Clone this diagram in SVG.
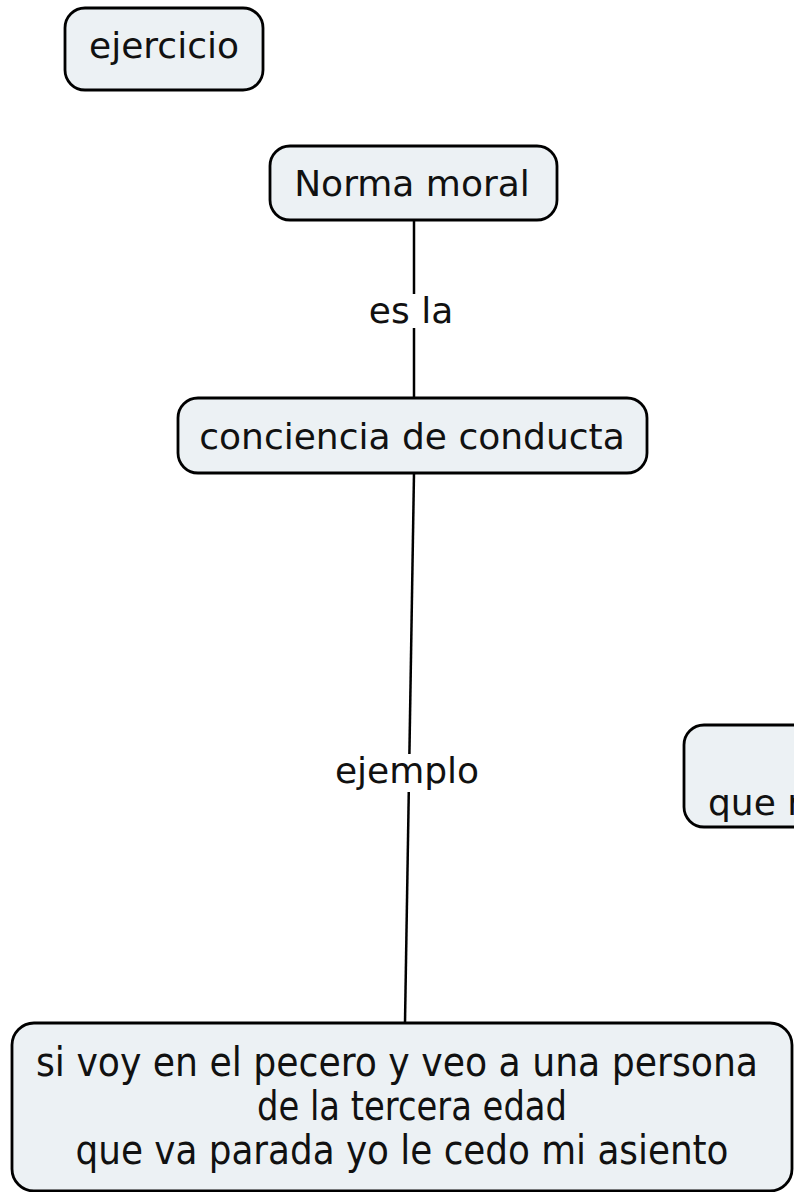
<svg xmlns="http://www.w3.org/2000/svg" width="794" height="1192" viewBox="0 0 794 1192">
<style>
.node rect{fill:#ECF1F4;stroke:#000;stroke-width:2.8}
.t{font-family:"DejaVu Sans",Verdana,sans-serif;font-size:36px;fill:#111;text-anchor:middle}
.b{font-family:"DejaVu Sans Condensed","DejaVu Sans",sans-serif;font-size:40px}
.conn line{stroke:#000;stroke-width:2.5}
.lbl{fill:#fff}
</style>
<rect width="794" height="1192" fill="#fff"/>
<g id="connectors" class="conn">
<line x1="414" y1="220" x2="414" y2="398"/>
<line x1="414" y1="473" x2="405" y2="1023"/>
<rect class="lbl" x="364" y="294" width="94" height="34"/>
<text class="t" x="411" y="323">es la</text>
<rect class="lbl" x="332" y="754" width="150" height="38"/>
<text class="t" x="407" y="783">ejemplo</text>
</g>
<g id="n-ejercicio" class="node">
<rect x="65" y="8" width="198" height="82" rx="20"/>
<text class="t" x="164" y="58">ejercicio</text>
</g>
<g id="n-norma" class="node">
<rect x="270" y="146" width="287" height="74" rx="20"/>
<text class="t" x="412" y="196">Norma moral</text>
</g>
<g id="n-conciencia" class="node">
<rect x="178" y="398" width="469" height="75" rx="20"/>
<text class="t" x="412" y="449">conciencia de conducta</text>
</g>
<g id="n-right" class="node">
<rect x="684" y="725" width="140" height="102" rx="20"/>
<text class="t" x="708" y="815" style="text-anchor:start">que r</text>
</g>
<g id="n-ejemplo" class="node">
<rect x="12" y="1023" width="780" height="168" rx="22"/>
<text class="t b" x="397" y="1076" textLength="722" lengthAdjust="spacingAndGlyphs">si voy en el pecero y veo a una persona</text>
<text class="t b" x="412" y="1120" textLength="310" lengthAdjust="spacingAndGlyphs">de la tercera edad</text>
<text class="t b" x="402" y="1164" textLength="653" lengthAdjust="spacingAndGlyphs">que va parada yo le cedo mi asiento</text>
</g>
</svg>
